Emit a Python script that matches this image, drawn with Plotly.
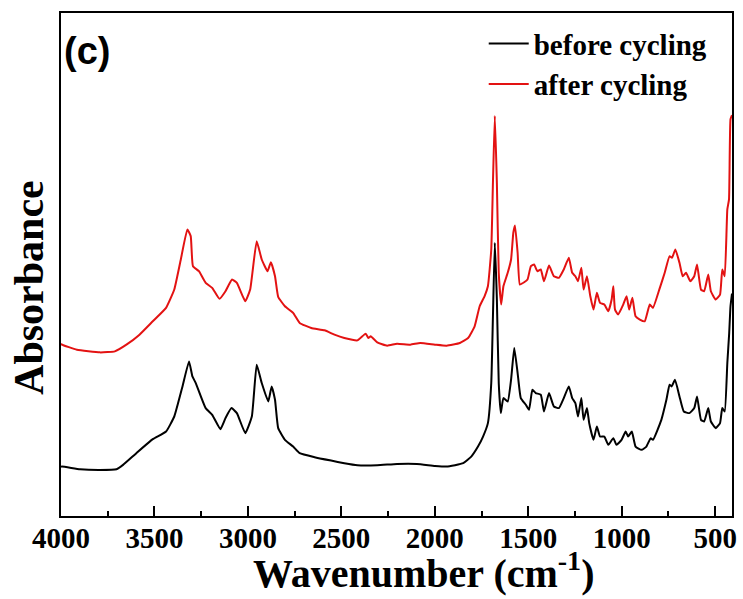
import plotly.graph_objects as go

# Wavenumber (cm-1) and absorbance (arbitrary units)
wn_before = [4000, 3995, 3898, 3792, 3703, 3668, 3597, 3509, 3438, 3394, 3350, 3315, 3297, 3279,
             3226, 3191, 3147, 3120, 3088, 3059, 3014, 2979, 2953, 2926, 2891, 2873, 2855, 2838,
             2802, 2758, 2723, 2643, 2555, 2484, 2414, 2308, 2202, 2096, 1999, 1937, 1848, 1805,
             1769, 1742, 1716, 1698, 1689, 1679, 1668, 1658, 1647, 1633, 1610, 1592, 1575, 1557,
             1540, 1513, 1496, 1478, 1460, 1433, 1416, 1389, 1363, 1336, 1310, 1283, 1265, 1248,
             1234, 1216, 1204, 1186, 1174, 1151, 1133, 1116, 1093, 1072, 1045, 1028, 1001, 979,
             966, 946, 926, 894, 868, 845, 833, 788, 761, 744, 733, 715, 691, 668, 638, 612, 597,
             576, 559, 537, 523, 497, 474, 462, 449, 435, 425, 418, 410]
abs_before = [49.0, 49.3, 46.7, 46.0, 46.7, 51.0, 62.7, 76.7, 84.3, 99.3, 129.3, 154.3, 139.3, 132.7,
              107.7, 101.0, 86.7, 97.7, 107.7, 102.7, 82.7, 99.3, 151.0, 132.7, 114.3, 129.3, 116.0, 87.7,
              76.0, 69.3, 62.7, 58.7, 55.3, 52.7, 50.7, 50.7, 52.0, 52.0, 50.0, 49.3, 52.7, 59.3,
              69.3, 79.3, 92.7, 132.7, 199.3, 272.7, 216.0, 132.7, 102.7, 117.7, 114.3, 136.0, 167.7, 142.7,
              117.7, 111.0, 106.0, 126.0, 122.7, 121.0, 104.3, 122.7, 109.3, 107.7, 117.7, 129.3, 117.7, 112.7,
              99.3, 117.7, 96.0, 107.7, 92.7, 76.0, 89.3, 79.3, 79.3, 71.0, 77.7, 71.0, 76.0, 84.3,
              79.3, 84.3, 69.3, 66.0, 69.3, 77.7, 76.0, 96.0, 116.0, 131.0, 129.3, 136.0, 119.3, 104.3, 102.7, 107.7, 119.3,
              96.0, 94.3, 107.7, 94.3, 87.7, 92.7, 107.7, 104.3, 152.7, 182.7, 209.3, 222.0]

wn_after = [4000, 3995, 3915, 3792, 3712, 3650, 3580, 3509, 3438, 3394, 3359, 3324, 3306, 3294,
            3262, 3226, 3191, 3152, 3120, 3085, 3059, 3014, 2988, 2953, 2926, 2895, 2877, 2855,
            2838, 2802, 2758, 2723, 2661, 2590, 2537, 2484, 2414, 2370, 2356, 2343, 2308, 2255,
            2202, 2131, 2078, 1999, 1937, 1866, 1822, 1787, 1760, 1734, 1716, 1698, 1689, 1679,
            1668, 1658, 1645, 1633, 1610, 1592, 1580, 1571, 1557, 1545, 1522, 1504, 1486, 1469,
            1451, 1433, 1416, 1389, 1363, 1336, 1310, 1283, 1265, 1248, 1234, 1216, 1204, 1186,
            1168, 1151, 1133, 1116, 1093, 1072, 1054, 1045, 1036, 1019, 992, 974, 960, 943, 926,
            903, 877, 850, 833, 796, 770, 744, 731, 713, 691, 674, 656, 633, 612, 597, 576, 559,
            537, 523, 497, 474, 462, 449, 435, 426, 418, 410]
abs_after = [172.0, 171.0, 166.0, 163.3, 164.3, 171.0, 181.0, 194.3, 207.7, 226.0, 256.0, 286.0, 279.3, 249.3,
             244.3, 232.7, 227.7, 216.7, 224.3, 236.0, 232.7, 214.3, 226.0, 274.3, 256.0, 244.3, 253.3, 239.3,
             218.7, 209.3, 202.7, 192.7, 187.7, 185.3, 181.0, 177.7, 175.3, 182.0, 177.7, 179.3, 173.3, 170.0,
             172.0, 171.0, 172.7, 171.0, 170.0, 172.7, 177.7, 189.3, 209.3, 219.3, 229.3, 266.0, 332.7, 399.3,
             332.7, 242.7, 211.0, 229.3, 242.7, 256.0, 282.7, 290.0, 262.7, 231.0, 233.3, 236.0, 249.3, 251.0,
             244.3, 246.0, 234.3, 250.0, 239.3, 237.7, 246.0, 257.7, 242.7, 239.3, 234.3, 247.7, 226.0, 239.3,
             219.3, 206.0, 222.7, 212.7, 211.0, 204.3, 216.0, 229.3, 206.0, 201.0, 211.0, 219.3, 206.0, 217.7, 199.3,
             196.0, 194.3, 211.0, 207.7, 227.7, 242.7, 259.3, 257.7, 266.0, 252.7, 239.3, 242.7, 234.3, 239.3, 251.0, 226.0, 224.3,
             241.0, 224.3, 216.0, 221.0, 246.0, 239.3, 306.0, 316.0, 396.0, 400.0]

series_names = ["before cycling", "after cycling"]
x_tick_values = [4000, 3500, 3000, 2500, 2000, 1500, 1000, 500]

SERIF = "Liberation Serif"

fig = go.Figure()
fig.add_trace(go.Scatter(x=wn_before, y=abs_before, mode="lines", name=series_names[0],
                         line=dict(color="#000000", width=2, shape="spline", smoothing=0.4)))
fig.add_trace(go.Scatter(x=wn_after, y=abs_after, mode="lines", name=series_names[1],
                         line=dict(color="#e31212", width=2, shape="spline", smoothing=0.4)))

fig.update_layout(
    width=743, height=599,
    margin=dict(l=61, r=6, t=13, b=83),
    paper_bgcolor="white", plot_bgcolor="white",
    showlegend=True,
    legend=dict(x=0.63, y=0.99, xanchor="left", yanchor="top",
                bgcolor="rgba(0,0,0,0)", borderwidth=0,
                font=dict(family=SERIF, size=29, color="black", weight="bold"),
                tracegroupgap=0, itemwidth=40),
    xaxis=dict(range=[4000, 410], tickvals=x_tick_values,
               ticks="inside", ticklen=10, tickwidth=2, tickcolor="black",
               minor=dict(dtick=250, tick0=0, ticks="inside", ticklen=5, tickwidth=2, tickcolor="black"),
               showline=True, linewidth=2, linecolor="black", mirror=True,
               showgrid=False, zeroline=False, ticklabelstandoff=-5,
               tickfont=dict(family=SERIF, size=29, color="black", weight="bold")),
    yaxis=dict(range=[0, 502], showticklabels=False, ticks="",
               showline=True, linewidth=2, linecolor="black", mirror=True,
               showgrid=False, zeroline=False),
    annotations=[
        dict(text="Wavenumber (cm<sup>-1</sup>)", xref="paper", yref="paper", x=0.54, y=-0.108,
             xanchor="center", yanchor="middle", showarrow=False,
             font=dict(family=SERIF, size=40, color="black", weight="bold")),
        dict(text="Absorbance", xref="paper", yref="paper", x=-0.048, y=0.455,
             xanchor="center", yanchor="middle", textangle=-90, showarrow=False,
             font=dict(family=SERIF, size=42, color="black", weight="bold")),
        dict(text="(c)", xref="paper", yref="paper", x=0.0385, y=0.9245,
             xanchor="center", yanchor="middle", showarrow=False,
             font=dict(family="Liberation Sans", size=38, color="black", weight="bold")),
    ],
)

fig.write_html("out.html")
